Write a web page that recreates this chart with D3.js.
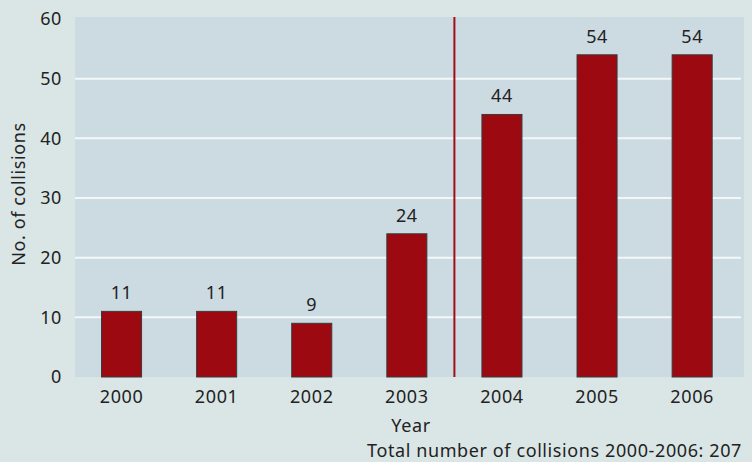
<!DOCTYPE html>
<html>
<head>
    <meta charset="utf-8" />
    <title>collisions 2000-2006</title>
    <script src="https://d3js.org/d3.v7.min.js"></script>
    <style>
        body { margin: 0; background: #dae6e6; }
        text { font-family: "Noto Sans", sans-serif; fill: #222; font-size: 18px; letter-spacing: 0.6px; }
    </style>
</head>
<body>
    <svg class="chart"></svg>
    <script>
        var years = ["2000", "2001", "2002", "2003", "2004", "2005", "2006"];
        var collisions = [11, 11, 9, 24, 44, 54, 54];
        var yTicks = [0, 10, 20, 30, 40, 50, 60];
        var splitAfter = "2003";

        var svgWidth = 752, svgHeight = 462;
        var margin = {top: 17, right: 8, bottom: 85, left: 75};
        var width = svgWidth - margin.left - margin.right;
        var height = svgHeight - margin.top - margin.bottom;

        var svg = d3.select(".chart")
            .attr("width", svgWidth)
            .attr("height", svgHeight)
            .style("display", "block");

        svg.append("rect")
            .attr("width", svgWidth).attr("height", svgHeight)
            .attr("fill", "#dae6e6");

        var chart = svg.append("g")
            .attr("transform", "translate(" + margin.left + "," + margin.top + ")");

        var xScale = d3.scaleBand().domain(years).range([-2, 665.7]).paddingInner(0.579).paddingOuter(0.3);
        var yScale = d3.scaleLinear().domain([0, 60]).range([height, 2]);

        chart.append("rect")
            .attr("width", width).attr("height", height)
            .attr("fill", "#ccdbe2");

        // gridlines
        chart.selectAll(".grid")
            .data(yTicks.filter(d => d > 0 && d < 60)).enter().append("line")
                .attr("x1", 0).attr("x2", width - 3)
                .attr("y1", d => yScale(d)).attr("y2", d => yScale(d))
                .attr("stroke", "#f4f7f8").attr("stroke-width", 2);

        // y axis labels
        chart.selectAll(".ylab")
            .data(yTicks).enter().append("text")
                .attr("x", -13).attr("y", d => yScale(d))
                .attr("dy", "0.35em")
                .attr("text-anchor", "end")
                .text(d => d);

        // split line
        var sx = (xScale(splitAfter) + xScale.bandwidth() + xScale(years[years.indexOf(splitAfter) + 1])) / 2;
        chart.append("line")
            .attr("x1", sx).attr("x2", sx)
            .attr("y1", 0).attr("y2", height)
            .attr("stroke", "#a30d16").attr("stroke-width", 2);

        // bars
        chart.selectAll(".bar")
            .data(years).enter().append("rect")
                .attr("x", d => xScale(d))
                .attr("y", (d, i) => yScale(collisions[i]))
                .attr("width", xScale.bandwidth())
                .attr("height", (d, i) => height - yScale(collisions[i]))
                .attr("fill", "#9c0911")
                .attr("stroke", "#3a3a3a").attr("stroke-width", 1);

        // value labels
        chart.selectAll(".val")
            .data(years).enter().append("text")
                .attr("x", d => xScale(d) + xScale.bandwidth() / 2)
                .attr("y", (d, i) => yScale(collisions[i]) - 12)
                .attr("text-anchor", "middle")
                .text((d, i) => collisions[i]);

        // x labels
        chart.selectAll(".xlab")
            .data(years).enter().append("text")
                .attr("x", d => xScale(d) + xScale.bandwidth() / 2)
                .attr("y", height + 26)
                .attr("text-anchor", "middle")
                .text(d => d);

        chart.append("text")
            .attr("x", 411 - margin.left).attr("y", height + 55)
            .attr("text-anchor", "middle")
            .text("Year");

        svg.append("text")
            .attr("x", 742).attr("y", 457)
            .attr("text-anchor", "end")
            .text("Total number of collisions 2000-2006: 207");

        svg.append("text")
            .attr("transform", "translate(25," + (margin.top + height / 2 - 3) + ") rotate(-90)")
            .attr("text-anchor", "middle")
            .text("No. of collisions");
    </script>
</body>
</html>
